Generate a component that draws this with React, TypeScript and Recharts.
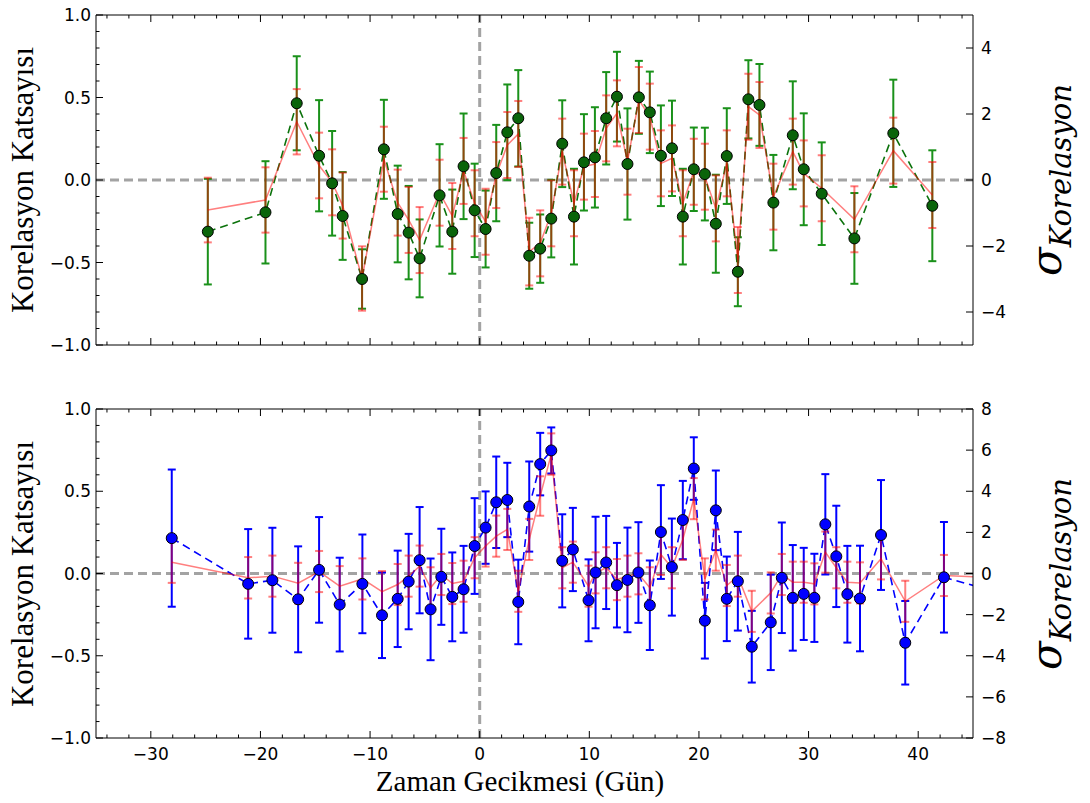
import React from 'react';
import { ComposedChart, Line, XAxis, YAxis, ErrorBar, ReferenceLine } from 'recharts';

// gecikme (gün) ve korelasyon değerleri - üst panel
const topDays = [-24.8, -19.54, -16.69, -14.65, -13.46, -12.5, -10.73, -8.74, -7.48, -6.48, -5.48, -3.66, -2.5, -1.47, -0.46, 0.54, 1.51, 2.52, 3.52, 4.52, 5.52, 6.53, 7.53, 8.6, 9.51, 10.51, 11.54, 12.52, 13.48, 14.52, 15.52, 16.53, 17.54, 18.53, 19.53, 20.54, 21.54, 22.54, 23.55, 24.51, 25.52, 26.79, 28.56, 29.56, 31.2, 34.18, 37.73, 41.29];
const topCorr = [-0.313, -0.196, 0.465, 0.147, -0.02, -0.218, -0.6, 0.186, -0.206, -0.319, -0.475, -0.093, -0.313, 0.083, -0.184, -0.297, 0.042, 0.289, 0.374, -0.459, -0.416, -0.234, 0.22, -0.222, 0.107, 0.137, 0.374, 0.505, 0.097, 0.501, 0.41, 0.147, 0.192, -0.222, 0.065, 0.036, -0.265, 0.145, -0.556, 0.489, 0.455, -0.137, 0.271, 0.065, -0.083, -0.354, 0.283, -0.156];
const topCorrErr = [0.32, 0.31, 0.285, 0.337, 0.317, 0.266, 0.18, 0.3, 0.293, 0.283, 0.236, 0.31, 0.255, 0.32, 0.283, 0.233, 0.292, 0.29, 0.292, 0.2, 0.207, 0.235, 0.263, 0.29, 0.292, 0.304, 0.28, 0.272, 0.337, 0.221, 0.247, 0.305, 0.289, 0.29, 0.253, 0.281, 0.297, 0.29, 0.209, 0.237, 0.248, 0.289, 0.327, 0.339, 0.311, 0.275, 0.325, 0.336];
const topModel = [-0.182, -0.121, 0.353, 0.088, -0.014, -0.155, -0.597, 0.126, -0.137, -0.242, -0.364, -0.077, -0.218, 0.055, -0.141, -0.253, 0.03, 0.212, 0.279, -0.434, -0.384, -0.202, 0.172, -0.141, 0.081, 0.097, 0.313, 0.404, 0.111, 0.485, 0.384, 0.101, 0.131, -0.141, 0.05, 0.02, -0.172, 0.101, -0.485, 0.444, 0.394, -0.101, 0.172, 0.04, -0.05, -0.238, 0.178, -0.091];
const topModelErr = [0.196, 0.198, 0.198, 0.199, 0.2, 0.2, 0.195, 0.197, 0.2, 0.2, 0.2, 0.2, 0.2, 0.2, 0.2, 0.2, 0.2, 0.2, 0.2, 0.205, 0.2, 0.2, 0.2, 0.2, 0.2, 0.2, 0.2, 0.2, 0.2, 0.2, 0.2, 0.2, 0.2, 0.2, 0.2, 0.2, 0.2, 0.2, 0.2, 0.2, 0.2, 0.2, 0.2, 0.2, 0.2, 0.2, 0.2, 0.2];

// alt panel
const botDays = [-28.09, -21.12, -18.91, -16.56, -14.65, -12.77, -10.7, -8.91, -7.48, -6.48, -5.48, -4.48, -3.5, -2.5, -1.47, -0.46, 0.54, 1.51, 2.52, 3.52, 4.52, 5.52, 6.53, 7.53, 8.5, 9.93, 10.57, 11.54, 12.52, 13.48, 14.48, 15.52, 16.53, 17.53, 18.53, 19.53, 20.54, 21.54, 22.54, 23.55, 24.82, 26.55, 27.56, 28.56, 29.56, 30.53, 31.53, 32.53, 33.54, 34.69, 36.61, 38.82, 42.35, 46.5];
const botCorr = [0.215, -0.063, -0.041, -0.157, 0.022, -0.189, -0.063, -0.254, -0.154, -0.049, 0.081, -0.218, -0.02, -0.142, -0.096, 0.167, 0.279, 0.433, 0.447, -0.173, 0.407, 0.665, 0.748, 0.077, 0.146, -0.163, 0.006, 0.067, -0.071, -0.039, 0.006, -0.193, 0.252, 0.039, 0.325, 0.638, -0.287, 0.384, -0.154, -0.047, -0.445, -0.297, -0.026, -0.148, -0.124, -0.148, 0.299, 0.104, -0.126, -0.152, 0.234, -0.421, -0.023, -0.1];
const botCorrErr = [0.417, 0.333, 0.319, 0.322, 0.321, 0.285, 0.3, 0.26, 0.293, 0.29, 0.323, 0.309, 0.292, 0.27, 0.264, 0.291, 0.22, 0.278, 0.226, 0.257, 0.274, 0.19, 0.14, 0.283, 0.253, 0.249, 0.339, 0.283, 0.257, 0.318, 0.306, 0.272, 0.285, 0.295, 0.238, 0.19, 0.23, 0.242, 0.257, 0.3, 0.218, 0.29, 0.336, 0.321, 0.28, 0.268, 0.305, 0.308, 0.294, 0.321, 0.334, 0.254, 0.336, null];
const botModel = [0.069, -0.026, -0.016, -0.059, 0.012, -0.077, -0.033, -0.11, -0.067, -0.016, 0.045, -0.087, -0.006, -0.061, -0.047, 0.096, 0.167, 0.227, 0.268, -0.108, 0.207, 0.471, 0.726, 0.035, 0.069, -0.077, 0.004, 0.035, -0.037, -0.016, -0.002, -0.087, 0.116, 0.035, 0.207, 0.455, -0.033, 0.142, -0.073, -0.016, -0.23, -0.118, -0.006, -0.053, -0.053, -0.063, 0.13, 0.035, -0.053, -0.057, 0.089, -0.169, -0.012, -0.025];
const botModelErr = [0.126, 0.126, 0.125, 0.124, 0.125, 0.122, 0.125, 0.125, 0.125, 0.125, 0.125, 0.125, 0.125, 0.125, 0.125, 0.125, 0.125, 0.125, 0.125, 0.125, 0.125, 0.12, 0.126, 0.125, 0.125, 0.125, 0.125, 0.125, 0.125, 0.125, 0.125, 0.125, 0.125, 0.125, 0.125, 0.125, 0.125, 0.125, 0.125, 0.125, 0.125, 0.125, 0.125, 0.125, 0.125, 0.125, 0.125, 0.125, 0.125, 0.125, 0.125, 0.125, 0.125, null];

// eksen işaretleri
const xTicks = [-34, -32, -30, -28, -26, -24, -22, -20, -18, -16, -14, -12, -10, -8, -6, -4, -2, 0, 2, 4, 6, 8, 10, 12, 14, 16, 18, 20, 22, 24, 26, 28, 30, 32, 34, 36, 38, 40, 42, 44];
const yTicks = [-1, -0.9, -0.8, -0.7, -0.6, -0.5, -0.4, -0.3, -0.2, -0.1, 0, 0.1, 0.2, 0.3, 0.4, 0.5, 0.6, 0.7, 0.8, 0.9, 1];
const sigmaTicksTop = [-4, -2, 0, 2, 4];
const sigmaTicksBot = [-8, -6, -4, -2, 0, 2, 4, 6, 8];

const topData = topDays.map((d, i) => ({ day: d, c: topCorr[i], cErr: topCorrErr[i], m: topModel[i], mErr: topModelErr[i] }));
const botData = botDays.map((d, i) => ({ day: d, c: botCorr[i], cErr: botCorrErr[i], m: botModel[i], mErr: botModelErr[i] }));

const TICK_FONT = { fontFamily: 'DejaVu Sans', fontSize: 17, fill: '#000' };
const minus = (s: string) => s.replace('-', '\u2212');

const LeftTick = (p: any) => {
  const v = p.payload.value;
  const major = Math.abs(v * 2 - Math.round(v * 2)) < 1e-6;
  return (
    <g>
      <line x1={p.x} x2={p.x + (major ? 7 : 3.5)} y1={p.y} y2={p.y} stroke="#000" strokeWidth={1} />
      {major && <text x={p.x - 5} y={p.y + 6} textAnchor="end" {...TICK_FONT}>{minus(v.toFixed(1))}</text>}
    </g>
  );
};

const RightTick = (p: any) => (
  <g>
    <line x1={p.x} x2={p.x - 7} y1={p.y} y2={p.y} stroke="#000" strokeWidth={1} />
    <text x={p.x + 8} y={p.y + 6} textAnchor="start" {...TICK_FONT}>{minus(String(p.payload.value))}</text>
  </g>
);

const makeXTick = (dir: number, label: boolean) => (p: any) => {
  const v = p.payload.value;
  const major = v % 10 === 0;
  return (
    <g>
      <line x1={p.x} x2={p.x} y1={p.y} y2={p.y + dir * (major ? 7 : 3.5)} stroke="#000" strokeWidth={1} />
      {label && major && <text x={p.x} y={p.y + 22} textAnchor="middle" {...TICK_FONT}>{minus(String(v))}</text>}
    </g>
  );
};

const Panel = ({ data, color, dotFill, barColor, sigmaDomain, sigmaTicks, showXLabels, height, bottom }: any) => (
  <ComposedChart width={1090} height={height} data={data} margin={{ top: 10, right: 57, bottom, left: 0 }}>
    <XAxis xAxisId="top" orientation="top" type="number" dataKey="day" domain={[-35, 45]} allowDataOverflow
      ticks={xTicks} interval={0} tickSize={0} tickMargin={0} tickLine={false} height={5}
      axisLine={{ stroke: '#000' }} tick={makeXTick(1, false)} />
    <XAxis xAxisId="b" type="number" dataKey="day" domain={[-35, 45]} allowDataOverflow
      ticks={xTicks} interval={0} tickSize={0} tickMargin={0} tickLine={false} height={showXLabels ? 30 : 5}
      axisLine={{ stroke: '#000' }} tick={makeXTick(-1, showXLabels)} />
    <YAxis yAxisId="left" type="number" domain={[-1, 1]} allowDataOverflow ticks={yTicks} interval={0}
      tickSize={0} tickMargin={0} tickLine={false} width={96} axisLine={{ stroke: '#000' }} tick={LeftTick} />
    <YAxis yAxisId="sig" orientation="right" type="number" domain={sigmaDomain} allowDataOverflow ticks={sigmaTicks}
      interval={0} tickSize={0} tickMargin={0} tickLine={false} width={60} axisLine={{ stroke: '#000' }} tick={RightTick} />

    <ReferenceLine xAxisId="b" yAxisId="left" y={0} stroke="#a3a3a3" strokeWidth={3} strokeDasharray="9 5" />
    <ReferenceLine xAxisId="b" yAxisId="left" x={0} stroke="#a3a3a3" strokeWidth={3} strokeDasharray="9 5" />

    <Line xAxisId="b" yAxisId="left" type="linear" dataKey="c" stroke={color} strokeWidth={1.6}
      strokeDasharray="8 5" dot={false} activeDot={false} isAnimationActive={false}>
      <ErrorBar dataKey="cErr" direction="y" width={4} stroke={barColor} strokeWidth={2} />
    </Line>
    <Line xAxisId="b" yAxisId="left" type="linear" dataKey="m" stroke="#ff0000" strokeOpacity={0.5} strokeWidth={1.5}
      dot={false} activeDot={false} isAnimationActive={false}>
      <ErrorBar dataKey="mErr" direction="y" width={4} stroke="#ff0000" strokeOpacity={0.5} strokeWidth={2} />
    </Line>
    <Line xAxisId="b" yAxisId="left" type="linear" dataKey="c" stroke="none" activeDot={false} isAnimationActive={false}
      dot={{ r: 5.5, fill: dotFill, stroke: '#000', strokeWidth: 1, fillOpacity: 1 }} />
  </ComposedChart>
);

export default function App() {
  return (
    <div style={{ position: 'absolute', left: 0, top: 0, width: 1090, height: 803, background: '#fff' }}>
      <div style={{ position: 'absolute', left: 0, top: 0 }}>
        <Panel data={topData} color="#0b720b" dotFill="#0a640a" barColor="#1a911a"
          sigmaDomain={[-5, 5]} sigmaTicks={sigmaTicksTop} showXLabels={false} height={360} bottom={10} />
      </div>
      <div style={{ position: 'absolute', left: 0, top: 394 }}>
        <Panel data={botData} color="#0000ff" dotFill="#0000ff" barColor="#0000ff"
          sigmaDomain={[-8, 8]} sigmaTicks={sigmaTicksBot} showXLabels={true} height={409} bottom={35} />
      </div>
      <svg width={1090} height={803} style={{ position: 'absolute', left: 0, top: 0, pointerEvents: 'none' }}>
        <text transform="translate(33,180) rotate(-90)" textAnchor="middle" fontFamily="Liberation Serif" fontSize={31}>Korelasyon Katsayısı</text>
        <text transform="translate(33,574) rotate(-90)" textAnchor="middle" fontFamily="Liberation Serif" fontSize={31}>Korelasyon Katsayısı</text>
        <text transform="translate(1061,180) rotate(-90)" textAnchor="middle" fontFamily="DejaVu Serif" fontStyle="italic">
          <tspan fontSize={42}>σ</tspan><tspan fontSize={29} dy={10}>Korelasyon</tspan>
        </text>
        <text transform="translate(1061,574) rotate(-90)" textAnchor="middle" fontFamily="DejaVu Serif" fontStyle="italic">
          <tspan fontSize={42}>σ</tspan><tspan fontSize={29} dy={10}>Korelasyon</tspan>
        </text>
        <text x={520} y={791} textAnchor="middle" fontFamily="Liberation Serif" fontSize={29}>Zaman Gecikmesi (Gün)</text>
      </svg>
    </div>
  );
}
